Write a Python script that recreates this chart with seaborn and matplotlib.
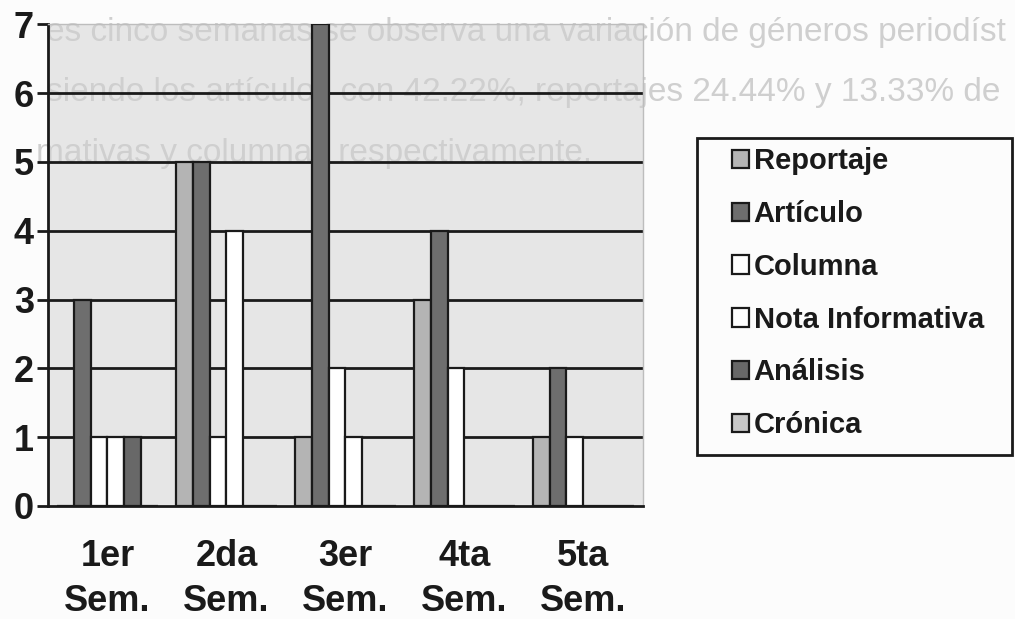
import pandas as pd
import matplotlib.pyplot as plt
import seaborn as sns
from matplotlib.patches import Rectangle

# weeks and genre counts
weeks = ["1er\nSem.", "2da\nSem.", "3er\nSem.", "4ta\nSem.", "5ta\nSem."]
genres = ["Reportaje", "Artículo", "Columna", "Nota Informativa", "Análisis", "Crónica"]
reportaje = [0, 5, 1, 3, 1]
articulo = [3, 5, 7, 4, 2]
columna = [1, 1, 2, 2, 1]
nota = [1, 4, 1, 0, 0]
analisis = [1, 0, 0, 0, 0]
cronica = [0, 0, 0, 0, 0]
colors = ["#b4b4b4", "#6e6e6e", "#ffffff", "#ffffff", "#686868", "#c6c6c6"]

# faint text bleeding through the scanned page
page_lines = [
    "es cinco semanas se observa una variación de géneros periodíst",
    "siendo los artículos con 42.22%, reportajes 24.44% y 13.33% de",
    "mativas y columnas respectivamente.",
]

rows = []
for genre, vals in zip(genres, [reportaje, articulo, columna, nota, analisis, cronica]):
    for wk, v in zip(weeks, vals):
        rows.append({"Semana": wk, "Género": genre, "Cantidad": v})
df = pd.DataFrame(rows)

sns.set_style("white")
plt.rcParams["font.family"] = ["Liberation Sans", "DejaVu Sans"]

fig = plt.figure(figsize=(10.15, 6.19), dpi=100)
fig.patch.set_facecolor("#fcfcfc")
ax = fig.add_axes([0.0473, 0.1826, 0.586, 0.778])
ax.set_facecolor("#e6e6e6")

sns.barplot(data=df, x="Semana", y="Cantidad", hue="Género", hue_order=genres,
            palette=colors, width=0.85, edgecolor="#1a1a1a", linewidth=1.6,
            saturation=1, ax=ax, zorder=3)

for y in range(1, 7):
    ax.axhline(y, color="#1a1a1a", lw=2, zorder=1)

for i, line in enumerate(page_lines):
    ax.text(0.045 if i < 2 else 0.035, 0.948 - i * 0.098, line, transform=fig.transFigure,
            fontsize=24, color="#cfcfcf", va="center", ha="left", zorder=0.5, clip_on=False)

ax.set_ylim(0, 7)
ax.set_xlim(-0.5, 4.5)
ax.set_yticks(range(0, 8))
ax.set_xticks([i - 0.5 for i in range(6)], minor=True)
ax.tick_params(axis="x", which="major", length=0, pad=24)
ax.tick_params(axis="x", which="minor", length=8, width=2, color="#1a1a1a", direction="out")
ax.tick_params(axis="y", length=8, width=2, color="#1a1a1a", direction="out", pad=2, left=True)
for lbl in ax.get_xticklabels():
    lbl.set_fontsize(26)
    lbl.set_fontweight("bold")
    lbl.set_color("#1a1a1a")
    lbl.set_linespacing(1.35)
for lbl in ax.get_yticklabels():
    lbl.set_fontsize(26)
    lbl.set_fontweight("bold")
    lbl.set_color("#1a1a1a")
ax.set_xlabel("")
ax.set_ylabel("")

for side in ["left", "bottom"]:
    ax.spines[side].set_color("#1a1a1a")
    ax.spines[side].set_linewidth(2)
for side in ["top", "right"]:
    ax.spines[side].set_color("#bdbdbd")
    ax.spines[side].set_linewidth(1)

handles, labels = ax.get_legend_handles_labels()
ax.get_legend().remove()
leg = fig.legend(handles, labels, loc="upper left", bbox_to_anchor=(0.721, 0.762),
                 frameon=False, prop={"weight": "bold", "size": 21},
                 handlelength=0.6, handleheight=0.6, handletextpad=0.15,
                 labelspacing=0.85, borderpad=0, borderaxespad=0)
for t in leg.get_texts():
    t.set_color("#1a1a1a")

# legend box
fig.patches.append(Rectangle((0.687, 0.265), 0.31, 0.512, transform=fig.transFigure,
                             fill=False, edgecolor="#1a1a1a", linewidth=2))

fig.savefig("out.png", dpi=100)
